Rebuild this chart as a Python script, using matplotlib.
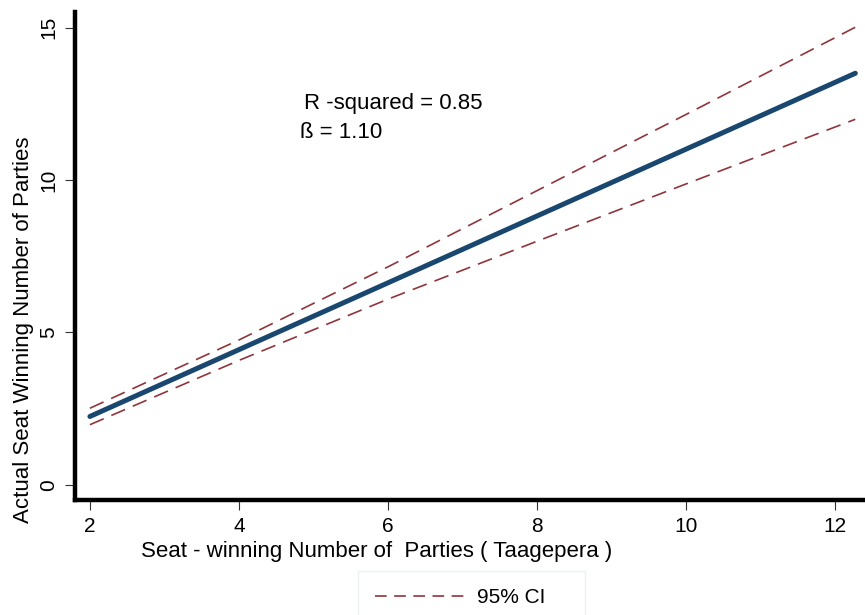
import matplotlib.pyplot as plt
from matplotlib.lines import Line2D

# fitted line and 95% CI band from the seat-winning parties regression
x_fit = [2.0, 12.27]
y_fit = [2.24, 13.5]

x_ci = [2.0, 4.0, 6.0, 8.0, 10.0, 12.27]
ci_upper = [2.51, 4.75, 7.15, 9.65, 12.15, 15.01]
ci_lower = [1.97, 4.08, 6.09, 7.99, 9.87, 11.99]

r_squared = 0.85
beta = 1.10

plt.rcParams['font.family'] = ['Liberation Sans', 'DejaVu Sans']
fs = 15
fs_lab = 16

fig = plt.figure(figsize=(8.65, 6.15), dpi=100)
ax = fig.add_axes([0.0867, 0.187, 0.9133, 0.793])

ci_color = '#90353b'
ci_dash = (9, 5)
ax.plot(x_ci, ci_upper, color=ci_color, lw=1.2, dashes=ci_dash)
ax.plot(x_ci, ci_lower, color=ci_color, lw=1.2, dashes=ci_dash)
ax.plot(x_fit, y_fit, color='#1a476f', lw=3.6, solid_capstyle='round')

ax.set_xlim(1.8, 12.4)
ax.set_ylim(-0.5, 15.5)
ax.set_xticks([2, 4, 6, 8, 10, 12])
ax.set_yticks([0, 5, 10, 15])

for side in ['top', 'right']:
    ax.spines[side].set_visible(False)
for side in ['left', 'bottom']:
    ax.spines[side].set_linewidth(3.2)
    ax.spines[side].set_color('black')

ax.tick_params(axis='both', direction='out', length=7, width=0.8,
               color='#333333', labelsize=fs, pad=5)
for lbl in ax.get_yticklabels():
    lbl.set_rotation(90)
    lbl.set_va('center')

ax.set_xlabel('Seat - winning Number of  Parties ( Taagepera )', fontsize=fs_lab)
ax.xaxis.set_label_coords(0.382, -0.085)
ax.set_ylabel('Actual Seat Winning Number of Parties', fontsize=fs_lab)
ax.yaxis.set_label_coords(-0.052, 0.35)

ax.text(4.87, 12.5, 'R -squared = {:.2f}'.format(r_squared), fontsize=fs_lab, va='center')
ax.text(4.82, 11.56, '\u00df = {:.2f}'.format(beta), fontsize=fs_lab, va='center')

ci_handle = Line2D([], [], color=ci_color, lw=1.2, dashes=(7, 4.5))
fig.legend([ci_handle], ['95% CI    '], loc='upper left',
           bbox_to_anchor=(0.414, 0.071), fontsize=fs, frameon=True,
           fancybox=False, edgecolor='#e6eeee', handlelength=4.4,
           handletextpad=0.5, borderpad=0.8, borderaxespad=0.0)

fig.savefig('out.png', dpi=100)
